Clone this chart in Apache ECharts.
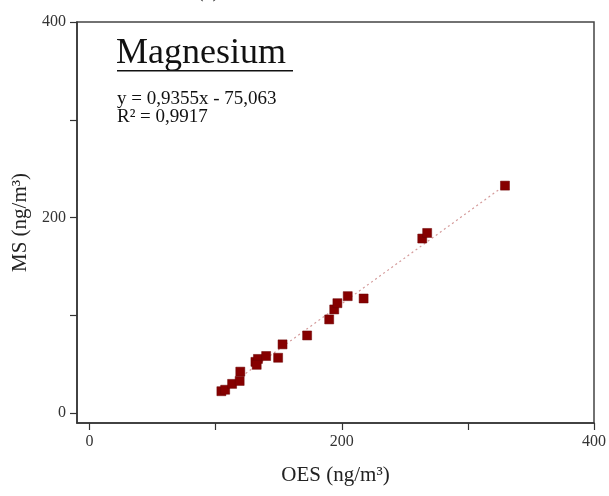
<!DOCTYPE html>
<html>
<head>
<meta charset="utf-8">
<script src="https://cdn.jsdelivr.net/npm/echarts@6/dist/echarts.min.js"></script>
<style>html,body{margin:0;padding:0;background:#fff}#c{width:609px;height:496px}</style>
</head>
<body>
<div id="c"></div>
<script>
// Data
var oesValues = [104.5, 107.5, 113, 119, 119.5, 131.5, 133.5, 132.5, 140, 149.5, 153, 172.5, 190, 194, 196.5, 204.7, 217.3, 263.8, 267.7, 329.4];
var msValues  = [22.5, 24, 30, 33, 42.5, 52.5, 55.5, 49.5, 58.5, 56.7, 70.4, 79.5, 95.9, 106.1, 112.5, 119.7, 117.3, 178.6, 184.3, 232.7];
var slope = 0.9355, intercept = -75.063;
var xTickLabels = [0, 200, 400];
var yTickLabels = [0, 200, 400];
var titleText = 'Magnesium';
var eqText = 'y = 0,9355x - 75,063';
var r2Text = 'R² = 0,9917';

var points = oesValues.map(function (x, i) { return [x, msValues[i]]; });
var xMinData = Math.min.apply(null, oesValues), xMaxData = Math.max.apply(null, oesValues);
var fitLine = [[xMinData, slope * xMinData + intercept], [xMaxData, slope * xMaxData + intercept]];

var serif = '"Liberation Serif", "DejaVu Serif", serif';
var chart = echarts.init(document.getElementById('c'), null, {renderer: 'canvas'});
chart.setOption({
  animation: false,
  backgroundColor: '#fff',
  grid: {left: 77, right: 15, top: 22, bottom: 73, show: true, borderColor: '#444', borderWidth: 1.5, containLabel: false},
  xAxis: {
    type: 'value', min: -10, max: 400, interval: 100,
    name: 'OES (ng/m³)', nameLocation: 'middle', nameGap: 42,
    nameTextStyle: {fontFamily: serif, fontSize: 21, color: '#222'},
    axisLine: {show: true, onZero: false, lineStyle: {color: '#333', width: 1.5}},
    axisTick: {show: true, inside: false, length: 7, lineStyle: {color: '#333', width: 1.2},
      customValues: [0, 100, 200, 300, 400]},
    axisLabel: {fontFamily: serif, fontSize: 16, color: '#333', margin: 11,
      customValues: xTickLabels, formatter: function (v) { return String(v); }},
    splitLine: {show: false}
  },
  yAxis: {
    type: 'value', min: -10, max: 400, interval: 100,
    name: 'MS (ng/m³)', nameLocation: 'middle', nameGap: 37,
    nameTextStyle: {fontFamily: serif, fontSize: 21, color: '#222'},
    axisLine: {show: true, onZero: false, lineStyle: {color: '#333', width: 1.5}},
    axisTick: {show: true, inside: false, length: 7, lineStyle: {color: '#333', width: 1.2},
      customValues: [0, 100, 200, 300, 400]},
    axisLabel: {fontFamily: serif, fontSize: 16, color: '#333', margin: 11,
      customValues: yTickLabels, formatter: function (v) { return String(v); }},
    splitLine: {show: false}
  },
  series: [
    {
      type: 'line', data: fitLine, symbol: 'none', silent: true,
      lineStyle: {color: '#d49a9a', width: 1.2, type: [2, 3]}, z: 1
    },
    {
      type: 'scatter', data: points, symbol: 'rect', symbolSize: 9,
      itemStyle: {color: '#860000', opacity: 1, borderColor: '#6a0000', borderWidth: 0.5}, z: 2
    }
  ],
  graphic: [
    {type: 'text', left: 197, top: -18, style: {text: '(a)', font: '20px ' + serif, fill: '#333'}},
    {type: 'text', left: 116, top: 36, style: {text: titleText, font: '36px ' + serif, fill: '#111'}},
    {type: 'rect', shape: {x: 117, y: 70, width: 176, height: 1.6}, style: {fill: '#111'}},
    {type: 'text', left: 117, top: 90, style: {text: eqText, font: '19px ' + serif, fill: '#111'}},
    {type: 'text', left: 117, top: 108, style: {text: r2Text, font: '19px ' + serif, fill: '#111'}}
  ]
});
</script>
</body>
</html>
